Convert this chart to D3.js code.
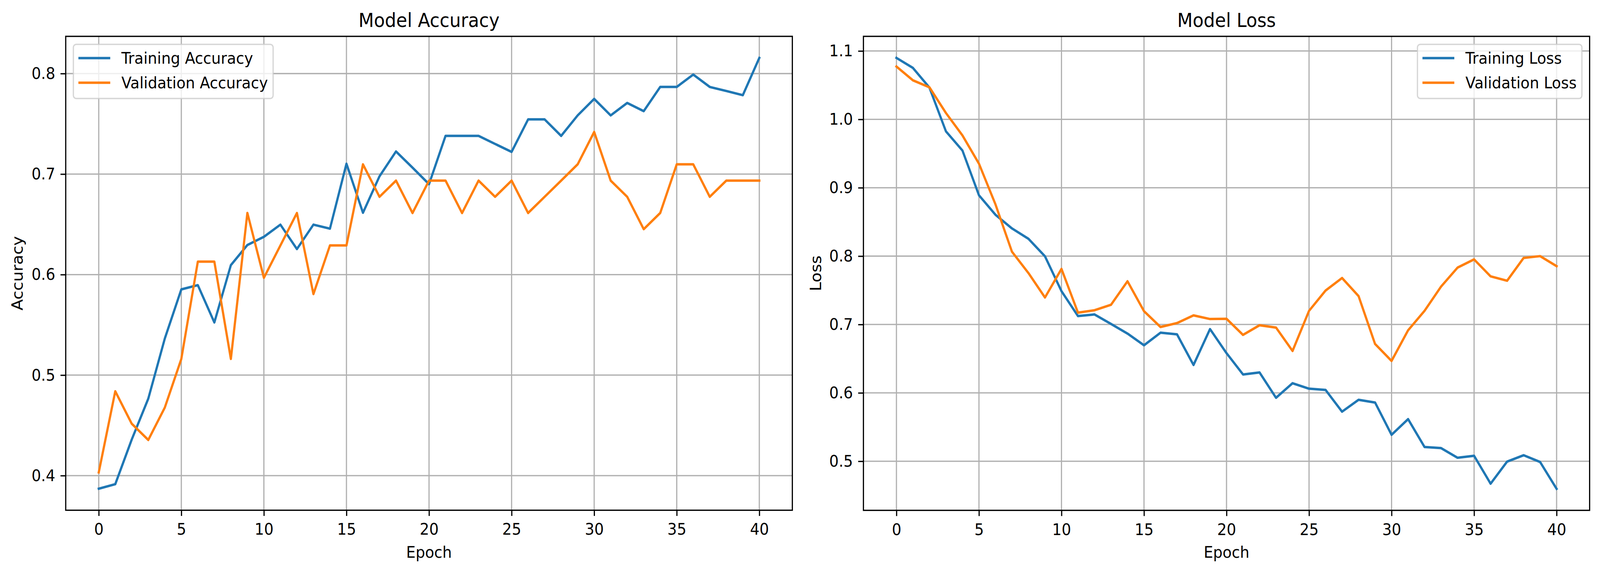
<!DOCTYPE html>
<html>
<head>
<meta charset="utf-8">
<script src="https://cdn.jsdelivr.net/npm/d3@7"></script>
<style>
  html, body { margin: 0; padding: 0; background: #fff; overflow: hidden; }
  svg { display: block; width: 100vw; height: 100vh; font-family: "DejaVu Sans", sans-serif; }
</style>
</head>
<body>
<div id="chart"></div>
<script>
// Values
const trainAcc = [0.387, 0.3915, 0.436, 0.4766, 0.5364, 0.5853, 0.5895, 0.5524, 0.6094, 0.6294,
  0.6376, 0.6497, 0.6254, 0.6497, 0.6457, 0.7103, 0.6615, 0.6978, 0.7225, 0.7064,
  0.690, 0.738, 0.738, 0.738, 0.730, 0.7221, 0.7544, 0.7544, 0.738, 0.7584,
  0.7748, 0.7584, 0.7708, 0.7626, 0.7867, 0.7867, 0.799, 0.7867, 0.7827, 0.7785, 0.8156];
const valAcc = [0.4032, 0.4839, 0.4516, 0.4355, 0.4677, 0.5161, 0.6129, 0.6129, 0.5161, 0.6613,
  0.5968, 0.6290, 0.6613, 0.5806, 0.6290, 0.6290, 0.7097, 0.6774, 0.6935, 0.6613,
  0.6935, 0.6935, 0.6613, 0.6935, 0.6774, 0.6935, 0.6613, 0.6774, 0.6935, 0.7097,
  0.7419, 0.6935, 0.6774, 0.6452, 0.6613, 0.7097, 0.7097, 0.6774, 0.6935, 0.6935, 0.6935];
const trainLoss = [1.0899, 1.0752, 1.0464, 0.9824, 0.9544, 0.889, 0.8605, 0.8405, 0.8253, 0.7997,
  0.7488, 0.7123, 0.7147, 0.7008, 0.6867, 0.6696, 0.688, 0.6856, 0.6408, 0.6933,
  0.6581, 0.6269, 0.6299, 0.5928, 0.6141, 0.6061, 0.6043, 0.5725, 0.5899, 0.5859,
  0.5387, 0.5616, 0.5208, 0.5192, 0.5051, 0.508, 0.4672, 0.4995, 0.5088, 0.4989, 0.4597];
const valLoss = [1.0773, 1.0571, 1.0469, 1.0093, 0.9765, 0.9352, 0.8757, 0.8064, 0.7752, 0.7395,
  0.7813, 0.7173, 0.7208, 0.7288, 0.7632, 0.7195, 0.6963, 0.7021, 0.7133, 0.708,
  0.7083, 0.6848, 0.6989, 0.6955, 0.6613, 0.72, 0.7496, 0.768, 0.7416, 0.6715,
  0.6467, 0.6915, 0.72, 0.7555, 0.7832, 0.7952, 0.7704, 0.764, 0.7973, 0.8, 0.7853];

const epochs = trainAcc.map((d, i) => i);
const xTicks = [0, 5, 10, 15, 20, 25, 30, 35, 40];
const accTicks = [0.4, 0.5, 0.6, 0.7, 0.8];
const lossTicks = [0.5, 0.6, 0.7, 0.8, 0.9, 1.0, 1.1];

const blue = "#1f77b4", orange = "#ff7f0e";

const W = 4470, H = 1466;
const svg = d3.select("#chart").append("svg")
  .attr("viewBox", "0 0 " + W + " " + H)
  .attr("preserveAspectRatio", "none");

// matplotlib-ish sizes at 300 dpi
const tickLen = 14.6, tickPad = 14.6, fs = 41.7, titleFs = 50;

function drawPanel(p) {
  const all = p.series.flatMap(s => s.values);
  const lo = d3.min(all), hi = d3.max(all), m = (hi - lo) * 0.05;

  const x = d3.scaleLinear().domain([-2, 42]).range([p.left, p.right]);
  const y = d3.scaleLinear().domain([lo - m, hi + m]).range([p.bottom, p.top]);

  const g = svg.append("g");

  // grid
  g.append("g").selectAll("line.vx")
    .data(xTicks).enter().append("line")
    .attr("x1", d => x(d)).attr("x2", d => x(d))
    .attr("y1", p.top).attr("y2", p.bottom)
    .attr("stroke", "#b0b0b0").attr("stroke-width", 3.3);
  g.append("g").selectAll("line.hy")
    .data(p.yTicks).enter().append("line")
    .attr("y1", d => y(d)).attr("y2", d => y(d))
    .attr("x1", p.left).attr("x2", p.right)
    .attr("stroke", "#b0b0b0").attr("stroke-width", 3.3);

  // lines
  const line = d3.line().x((d, i) => x(epochs[i])).y(d => y(d));
  p.series.forEach(s => {
    g.append("path")
      .datum(s.values)
      .attr("d", line)
      .attr("fill", "none")
      .attr("stroke", s.color)
      .attr("stroke-width", 6.25)
      .attr("stroke-linejoin", "round")
      .attr("stroke-linecap", "square");
  });

  // axes
  const xAxis = g.append("g")
    .attr("transform", "translate(0," + p.bottom + ")")
    .call(d3.axisBottom(x).tickValues(xTicks).tickSize(tickLen).tickPadding(tickPad).tickFormat(d3.format("d")));
  const yAxis = g.append("g")
    .attr("transform", "translate(" + p.left + ",0)")
    .call(d3.axisLeft(y).tickValues(p.yTicks).tickSize(tickLen).tickPadding(tickPad).tickFormat(d3.format(".1f")));
  [xAxis, yAxis].forEach(a => {
    a.select(".domain").remove();
    a.selectAll(".tick line").attr("stroke", "#000").attr("stroke-width", 3.3);
    a.selectAll(".tick text").attr("fill", "#000").style("font-size", fs + "px")
      .style("font-family", "DejaVu Sans");
  });
  xAxis.selectAll(".tick text").attr("dy", "0.81em");

  // frame
  g.append("rect")
    .attr("x", p.left).attr("y", p.top)
    .attr("width", p.right - p.left).attr("height", p.bottom - p.top)
    .attr("fill", "none").attr("stroke", "#000").attr("stroke-width", 3.3);

  // title and labels
  g.append("text")
    .attr("x", (p.left + p.right) / 2).attr("y", 69)
    .attr("text-anchor", "middle")
    .style("font-size", titleFs + "px")
    .text(p.title);
  g.append("text")
    .attr("x", (p.left + p.right) / 2).attr("y", 1427)
    .attr("text-anchor", "middle")
    .style("font-size", fs + "px")
    .text("Epoch");
  g.append("text")
    .attr("transform", "translate(" + p.yLabelX + "," + ((p.top + p.bottom) / 2) + ") rotate(-90)")
    .attr("text-anchor", "middle")
    .style("font-size", fs + "px")
    .text(p.yLabel);

  // legend
  const lg = g.append("g").attr("transform", "translate(" + p.legend.x + "," + p.legend.y + ")");
  lg.append("rect")
    .attr("width", p.legend.w).attr("height", 138.5)
    .attr("rx", 8).attr("ry", 8)
    .attr("fill", "#fff").attr("fill-opacity", 0.8)
    .attr("stroke", "#cccccc").attr("stroke-opacity", 0.8).attr("stroke-width", 3.5);
  p.series.forEach((s, i) => {
    const yy = 35 + i * 63;
    lg.append("line")
      .attr("x1", 14).attr("x2", 103)
      .attr("y1", yy).attr("y2", yy)
      .attr("stroke", s.color).attr("stroke-width", 6.25);
    lg.append("text")
      .attr("x", 134).attr("y", yy + 15)
      .style("font-size", fs + "px")
      .text(s.name);
  });
}

drawPanel({
  left: 183.6, right: 2213.6, top: 93, bottom: 1305.4,
  title: "Model Accuracy", yLabel: "Accuracy", yLabelX: 63,
  yTicks: accTicks,
  series: [
    { name: "Training Accuracy", values: trainAcc, color: blue },
    { name: "Validation Accuracy", values: valAcc, color: orange }
  ],
  legend: { x: 205, y: 113.5, w: 558 }
});

drawPanel({
  left: 2412.2, right: 4441, top: 93, bottom: 1305.7,
  title: "Model Loss", yLabel: "Loss", yLabelX: 2294,
  yTicks: lossTicks,
  series: [
    { name: "Training Loss", values: trainLoss, color: blue },
    { name: "Validation Loss", values: valLoss, color: orange }
  ],
  legend: { x: 3960, y: 113.5, w: 459.5 }
});
</script>
</body>
</html>
